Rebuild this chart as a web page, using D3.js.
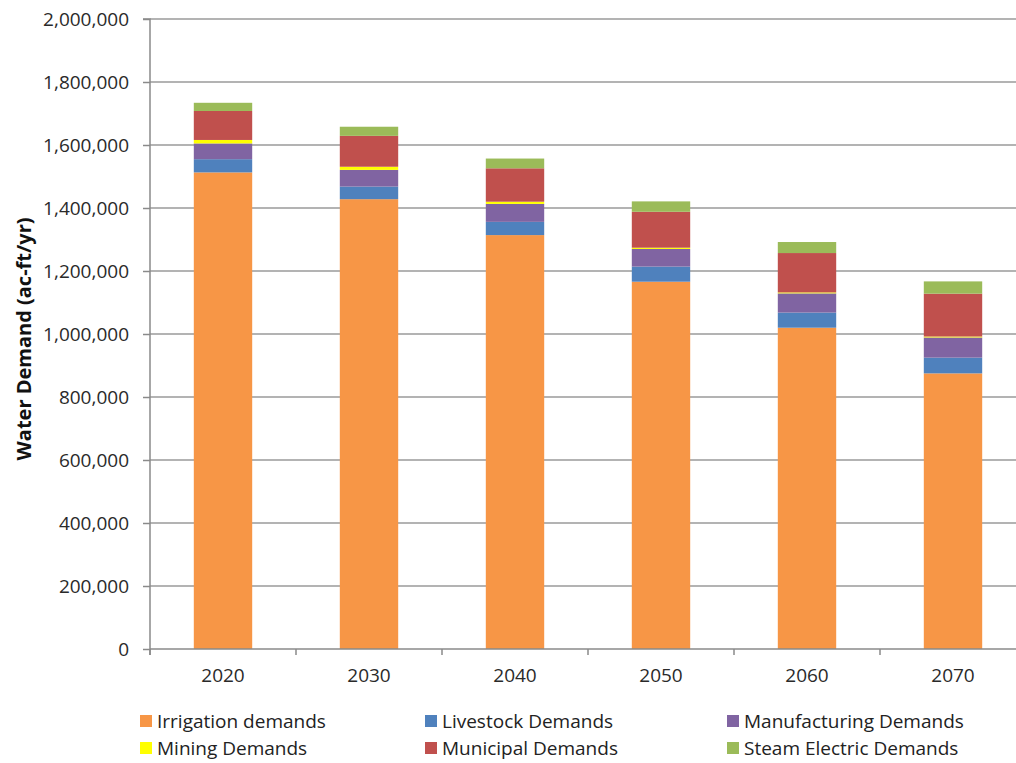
<!DOCTYPE html>
<html>
<head>
<meta charset="utf-8">
<script src="https://cdn.jsdelivr.net/npm/d3@7/dist/d3.min.js"></script>
<style>
  html, body { margin: 0; padding: 0; background: #fff; }
  svg { display: block; font-family: "Open Sans", Lato, "Liberation Sans", sans-serif; }
</style>
</head>
<body>
<svg id="chart" width="1016" height="763"></svg>
<script>
const years = ["2020", "2030", "2040", "2050", "2060", "2070"];
const seriesNames = ["Irrigation demands", "Livestock Demands", "Manufacturing Demands", "Mining Demands", "Municipal Demands", "Steam Electric Demands"];
const seriesColors = ["#F79646", "#4F81BD", "#8064A2", "#FFFF00", "#C0504D", "#9BBB59"];
const irrigation    = [1513000, 1428000, 1314000, 1166000, 1020000, 875000];
const livestock     = [42000, 40000, 42000, 48000, 48000, 50000];
const manufacturing = [50000, 53000, 57000, 56000, 61000, 64000];
const mining        = [11000, 10000, 7000, 4000, 3000, 3000];
const municipal     = [92000, 98000, 106000, 114000, 125000, 136000];
const steamElectric = [26000, 29000, 31000, 33000, 35000, 39000];
const yTicks = [0, 200000, 400000, 600000, 800000, 1000000, 1200000, 1400000, 1600000, 1800000, 2000000];

const seriesValues = [irrigation, livestock, manufacturing, mining, municipal, steamElectric];
const table = years.map((yr, i) => {
  const row = { year: yr };
  seriesNames.forEach((s, k) => row[s] = seriesValues[k][i]);
  return row;
});

const svg = d3.select("#chart");
const mLeft = 150, mTop = 19, mBottom = 649, bandW = 146;
const mRight = mLeft + bandW * years.length;
const FONT = "'Open Sans', Lato, sans-serif";

const x = d3.scaleBand().domain(years).range([mLeft, mRight]).paddingInner(0.6).paddingOuter(0.3);
const y = d3.scaleLinear().domain([0, 2000000]).range([mBottom, mTop]);

// gridlines
svg.append("g").selectAll("line").data(yTicks.filter(d => d > 0)).join("line")
  .attr("x1", mLeft).attr("x2", mRight)
  .attr("y1", d => y(d)).attr("y2", d => y(d))
  .attr("stroke", "#9a9a9a").attr("stroke-width", 1.5);

// bars
const stack = d3.stack().keys(seriesNames)(table);
svg.append("g").selectAll("g").data(stack).join("g")
  .attr("fill", (d, i) => seriesColors[i])
  .selectAll("rect").data(d => d).join("rect")
  .attr("x", d => x(d.data.year))
  .attr("width", x.bandwidth())
  .attr("y", d => y(d[1]))
  .attr("height", d => y(d[0]) - y(d[1]));

// y axis
const yAxis = d3.axisLeft(y).tickValues(yTicks).tickSize(7).tickPadding(14)
  .tickFormat(d3.format(","));
const gy = svg.append("g").attr("transform", `translate(${mLeft},0)`).call(yAxis);
gy.select(".domain").attr("stroke", "#8a8a8a").attr("stroke-width", 1.5).attr("d", `M-7,${mTop}H0V${mBottom + 6}`);
gy.selectAll(".tick line").attr("stroke", "#8a8a8a").attr("stroke-width", 1.5);
gy.selectAll(".tick text").attr("fill", "#2a2a2a").style("font-size", "19px").style("font-family", FONT);

// x axis
const gx = svg.append("g").attr("transform", `translate(0,${mBottom})`)
  .call(d3.axisBottom(x).tickSize(0).tickPadding(20));
gx.select(".domain").attr("stroke", "#8a8a8a").attr("stroke-width", 1.5).attr("d", `M${mLeft},0H${mRight}`);
gx.selectAll(".tick text").attr("fill", "#2a2a2a").style("font-size", "19px").style("font-family", FONT);
// boundary ticks
svg.append("g").selectAll("line").data(d3.range(years.length + 1)).join("line")
  .attr("x1", i => mLeft + i * bandW).attr("x2", i => mLeft + i * bandW)
  .attr("y1", mBottom).attr("y2", mBottom + 6)
  .attr("stroke", "#8a8a8a").attr("stroke-width", 1.5);

// y label
svg.append("text")
  .attr("transform", `translate(31,339) rotate(-90)`)
  .attr("text-anchor", "middle")
  .style("font-size", "20px").style("font-weight", "bold").style("font-family", FONT).attr("fill", "#111")
  .text("Water Demand (ac-ft/yr)");

// legend
const legendPos = [
  [140, 721], [425, 721], [727, 721],
  [140, 748], [425, 748], [727, 748]
];
const legendOrder = [0, 1, 2, 3, 4, 5];
const lg = svg.append("g").selectAll("g").data(legendOrder).join("g")
  .attr("transform", (d, i) => `translate(${legendPos[i][0]},${legendPos[i][1]})`);
lg.append("rect").attr("x", 0).attr("y", -6).attr("width", 12).attr("height", 12)
  .attr("fill", d => seriesColors[d]);
lg.append("text").attr("x", 17).attr("y", 0).attr("dy", "0.35em")
  .style("font-size", "19px").style("font-family", FONT).attr("fill", "#222")
  .text(d => seriesNames[d]);
</script>
</body>
</html>
